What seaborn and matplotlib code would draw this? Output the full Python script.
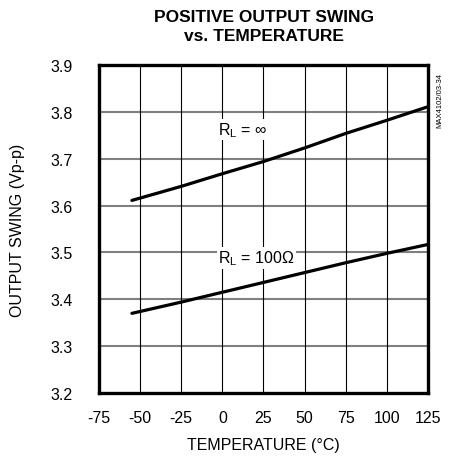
import matplotlib
matplotlib.use("Agg")
import matplotlib.pyplot as plt
import seaborn as sns
import pandas as pd

# Temperature sweep (°C) and measured positive output swing (Vp-p)
temp_c = [-55, -50, -25, 0, 25, 50, 75, 100, 125]
swing_rl_inf = [3.611, 3.616, 3.641, 3.668, 3.694, 3.723, 3.754, 3.782, 3.811]
swing_rl_100 = [3.370, 3.374, 3.394, 3.415, 3.436, 3.457, 3.478, 3.498, 3.517]

x_ticks = [-75, -50, -25, 0, 25, 50, 75, 100, 125]
y_ticks = [3.2, 3.3, 3.4, 3.5, 3.6, 3.7, 3.8, 3.9]

df = pd.concat([
    pd.DataFrame({"temp": temp_c, "swing": swing_rl_inf, "load": "inf"}),
    pd.DataFrame({"temp": temp_c, "swing": swing_rl_100, "load": "100"}),
])

sns.set_theme(style="white")
plt.rcParams["font.family"] = ["Liberation Sans", "DejaVu Sans"]
plt.rcParams["text.color"] = "black"
plt.rcParams["axes.labelcolor"] = "black"
plt.rcParams["mathtext.fontset"] = "custom"
plt.rcParams["mathtext.rm"] = "Liberation Sans"

fig = plt.figure(figsize=(4.52, 4.60), dpi=100)
ax = fig.add_axes([99 / 452, 1 - 394 / 460, 329 / 452, 328 / 460])

sns.lineplot(data=df, x="temp", y="swing", units="load", estimator=None,
             color="black", linewidth=2.3, ax=ax, legend=False, zorder=3)

ax.set_xlim(-75, 125)
ax.set_ylim(3.2, 3.9)
ax.set_xticks(x_ticks)
ax.set_yticks(y_ticks)
ax.set_xticklabels([str(t) for t in x_ticks])
ax.set_yticklabels([f"{v:.1f}" for v in y_ticks])

# grid: grey horizontals, thin black verticals
for v in y_ticks[1:-1]:
    ax.axhline(v, color="#808080", linewidth=1.5, zorder=1)
for t in x_ticks[1:-1]:
    ax.axvline(t, color="black", linewidth=0.8, zorder=1)

for s in ax.spines.values():
    s.set_visible(True)
    s.set_color("black")
    s.set_linewidth(2.4)

fs = 11.5
ax.tick_params(axis="both", length=0, colors="black", labelsize=fs)
ax.tick_params(axis="x", pad=12)
ax.tick_params(axis="y", pad=19)

ax.set_xlabel("TEMPERATURE (°C)", fontsize=fs, labelpad=9)
ax.set_ylabel("OUTPUT SWING (Vp-p)", fontsize=fs, labelpad=18)

fig.text(264 / 452, 1 - 27 / 460, "POSITIVE OUTPUT SWING\nvs. TEMPERATURE",
         ha="center", va="center", fontsize=12.5, fontweight="bold",
         linespacing=1.3)

box = dict(facecolor="white", edgecolor="none", pad=1.0)
ax.text(-2.5, 3.762, r"R$_\mathregular{L}$ = ∞", fontsize=fs, ha="left", va="center",
        bbox=box, zorder=2)
ax.text(-2.5, 3.488, r"R$_\mathregular{L}$ = 100Ω", fontsize=fs, ha="left", va="center",
        bbox=box, zorder=2)

fig.text(440 / 452, 1 - 100 / 460, "MAX4102/03-34", rotation=90, ha="center",
         va="center", fontsize=5.5)

fig.savefig("out.png", dpi=100, facecolor="white")
